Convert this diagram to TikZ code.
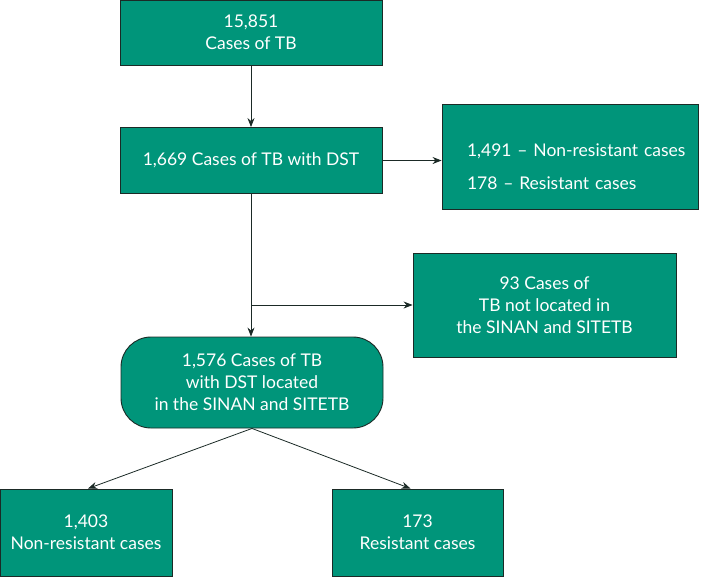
\documentclass[tikz,border=0pt]{standalone}
\usepackage{fontspec}
\setmainfont{Lato}
\usepackage{xcolor}
\usetikzlibrary{arrows.meta,calc,positioning}
\definecolor{Ink}{HTML}{1B2A26}
\definecolor{Teal}{HTML}{00957A}

\tikzset{
  flowbox/.style={draw=Ink,fill=Teal,text=white,line width=0.9pt,
    inner sep=0pt,align=center,font=\fontsize{17.5}{22}\selectfont},
  roundbox/.style={flowbox,rounded corners=30pt},
  link/.style={draw=Ink,line width=0.8pt,-{Stealth[length=9pt,width=7pt]}}
}

\begin{document}
\begin{tikzpicture}[x=1pt,y=-1pt]
  \useasboundingbox (0,0) rectangle (706,576);
  % boxes, placed at pixel coordinates
  \node[flowbox,minimum width=262pt,minimum height=65pt] (total) at (251,32.5) {15,851\\Cases of TB};
  \node[flowbox,minimum width=262pt,minimum height=66pt] (dst) at (251,160.5) {1,669 Cases of TB with DST};
  \node[flowbox,minimum width=256pt,minimum height=105pt,text width=206pt,align=left] (dstsplit) at (570,157)
    {\rule{0pt}{32pt}\mbox{1,491 -- Non-resistant cases}\\[11pt]\mbox{178 -- Resistant cases}};
  \node[flowbox,minimum width=263pt,minimum height=104pt] (notfound) at (544.5,305) {93 Cases of\\TB not located in\\the SINAN and SITETB};
  \node[roundbox,minimum width=262pt,minimum height=91pt] (located) at (252,382.5) {1,576 Cases of TB\\with DST located\\in the SINAN and SITETB};
  \node[flowbox,minimum width=172pt,minimum height=87pt] (nonres) at (86,532.5) {1,403\\Non-resistant cases};
  \node[flowbox,minimum width=171pt,minimum height=87pt] (res) at (417.5,532.5) {173\\Resistant cases};
  \coordinate (branch) at (251,305);
  % connectors
  \draw[link] (total) -- (dst);
  \draw[link] (dst.east) -- (dst.east -| dstsplit.west);
  \draw[link] (dst.south) -- (dst.south |- located.north);
  \draw[link] (branch) -- (branch -| notfound.west);
  \draw[link] (located.south) -- ([xshift=2pt]nonres.north);
  \draw[link] (located.south) -- ([xshift=-7pt]res.north);
\end{tikzpicture}
\end{document}
